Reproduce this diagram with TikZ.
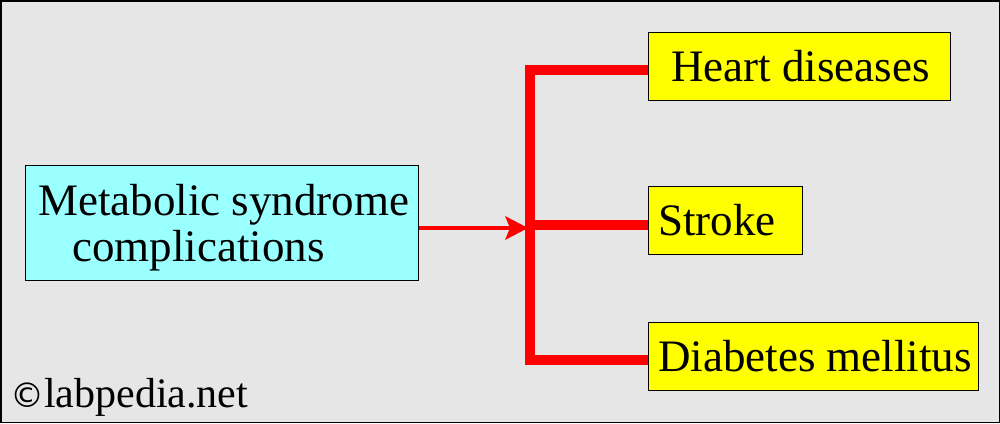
\documentclass[tikz,border=0pt]{standalone}
\usepackage{fontspec}
\setmainfont{Liberation Serif}
\begin{document}
\begin{tikzpicture}[x=1pt,y=-1pt,
 box/.style={draw=black,line width=1pt,anchor=north west,inner sep=0pt},
 lbl/.style={font=\fontsize{45}{46}\selectfont,anchor=west,inner sep=0pt},
 br/.style={red,line width=10pt}]
\definecolor{bg}{HTML}{E6E6E6}
\definecolor{cy}{HTML}{99FFFF}
\definecolor{yl}{HTML}{FFFF00}
\useasboundingbox (0,0) rectangle (1000,423);
\fill[bg] (0,0) rectangle (1000,423);
\draw[line width=1.5pt] (0.75,0.75) rectangle (999.25,422.25);
\node[box,fill=cy,minimum width=393pt,minimum height=115pt] (m) at (25,165) {};
\node[lbl,align=left] (mt) at (38,228) {Metabolic syndrome\\\hspace*{34pt}complications};
\node[box,fill=yl,minimum width=302pt,minimum height=68pt] (h) at (648,32) {};
\node[lbl] at (671,66) {Heart diseases};
\node[box,fill=yl,minimum width=154pt,minimum height=68pt] (s) at (648,186) {};
\node[lbl] at (658,220) {Stroke};
\node[box,fill=yl,minimum width=330pt,minimum height=68pt] (d) at (648,322) {};
\node[lbl] at (658,356) {Diabetes mellitus};
\coordinate (t) at (535,70); \coordinate (mid) at (535,225); \coordinate (b) at (535,360);
\draw[br,line cap=butt] (h.west |- t) -- (530,70) -- (530,360) -- (d.west |- b);
\draw[br] (530,225) -- (s.west |- mid);
\draw[red,line width=4pt] (m.east |- 0,228) -- (510,228);
\fill[red] (528,228) -- (505,216) -- (510,228) -- (505,240) -- cycle;
\node[font=\fontsize{42}{44}\selectfont,anchor=west,inner sep=0pt] (c) at (10,397) {{\fontspec{DejaVu Sans}\fontsize{34}{36}\selectfont ©}labpedia.net};
\end{tikzpicture}
\end{document}
